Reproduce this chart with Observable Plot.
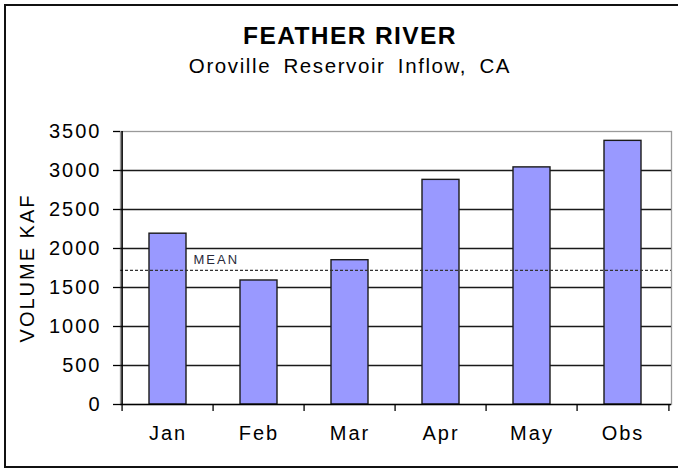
<!DOCTYPE html>
<html>
<head>
<meta charset="utf-8">
<script src="https://cdn.jsdelivr.net/npm/d3@7"></script>
<script src="https://cdn.jsdelivr.net/npm/@observablehq/plot@0.6"></script>
<style>
  html, body { margin: 0; padding: 0; background: #fff; overflow: hidden; width: 678px; height: 470px; }
  #frame { position: absolute; left: 4px; top: 4px; width: 672px; height: 460px; border: 2px solid #111; border-right: none; box-sizing: content-box; }
  #header { position: absolute; left: 4px; top: 0; width: 674px; height: 90px; overflow: visible; font-family: "Liberation Sans", Arial, sans-serif; color: #000; }
  #title { position: absolute; left: 0; width: 692px; text-align: center; top: 23.6px; font-size: 24.5px; line-height: 24.5px; font-weight: bold; letter-spacing: 1.4px; }
  #subtitle { position: absolute; left: 0; width: 692px; text-align: center; top: 56px; font-size: 20.5px; line-height: 20.5px; letter-spacing: 1.6px; word-spacing: 5px; }
  #chart { position: absolute; left: 0; top: 90px; }
</style>
</head>
<body>
<div id="frame"></div>
<div id="header">
  <div id="title">FEATHER RIVER</div>
  <div id="subtitle">Oroville Reservoir Inflow, CA</div>
</div>
<div id="chart"></div>
<script>
const months = ["Jan", "Feb", "Mar", "Apr", "May", "Obs"];
const volumes = [2190, 1590, 1850, 2880, 3040, 3380];
const meanValue = 1720;
const meanLabel = "MEAN";
const yTicks = [0, 500, 1000, 1500, 2000, 2500, 3000, 3500];
const yLabel = "VOLUME KAF";

const data = months.map((m, i) => ({month: m, volume: volumes[i]}));

const W = 678, H = 380;
const mL = 120, mR = 7, mT = 41, mB = 66;
const step = (W - mL - mR) / months.length;
const yMax = yTicks[yTicks.length - 1];

const chart = Plot.plot({
  width: W,
  height: H,
  marginLeft: mL,
  marginRight: mR,
  marginTop: mT,
  marginBottom: mB,
  style: {
    fontFamily: "'Liberation Sans', Arial, sans-serif",
    fontSize: "20px",
    letterSpacing: "2px",
    color: "#000",
    background: "transparent"
  },
  x: {domain: months, paddingInner: 0.59, paddingOuter: 0.295},
  y: {domain: [0, yMax]},
  marks: [
    Plot.frame({stroke: "#9a9a9a", strokeWidth: 1.3}),
    Plot.ruleY(yTicks.filter(v => v > 0 && v < yMax), {stroke: "#1a1a1a", strokeWidth: 1.4}),
    Plot.barY(data, {x: "month", y: "volume", fill: "#9999ff", stroke: "#1a1a1a", strokeWidth: 1.4}),
    Plot.ruleY([meanValue], {stroke: "#333", strokeWidth: 1.1, strokeDasharray: "3,2"}),
    Plot.text([meanLabel], {frameAnchor: "left", y: () => meanValue, text: d => d, dx: 73, dy: -11, textAnchor: "start", fontSize: 13, fill: "#2a2a3a", style: "letter-spacing:1.2px"}),
    Plot.ruleY([0], {stroke: "#000", strokeWidth: 1.6}),
    Plot.ruleX([months[0]], {dx: -step / 2, y1: 0, y2: yMax, stroke: "#000", strokeWidth: 1.6}),
    Plot.axisY(yTicks, {tickSize: 7, tickPadding: 12, tickFormat: d => String(d), label: null, stroke: "#000", strokeWidth: 1.3}),
    Plot.axisX(months, {tickSize: 7, tickFormat: () => "", label: null, dx: -step / 2, stroke: "#000", strokeWidth: 1.3}),
    Plot.axisX([months[months.length - 1]], {tickSize: 7, tickFormat: () => "", label: null, dx: step / 2, stroke: "#000", strokeWidth: 1.3}),
    Plot.axisX(months, {tickSize: 0, tickPadding: 21, label: null}),
    Plot.text([yLabel], {frameAnchor: "left", text: d => d, rotate: -90, dx: -93, fontSize: 20, textAnchor: "middle", lineAnchor: "middle", style: "letter-spacing:3px"})
  ]
});
document.getElementById("chart").appendChild(chart);
</script>
</body>
</html>
